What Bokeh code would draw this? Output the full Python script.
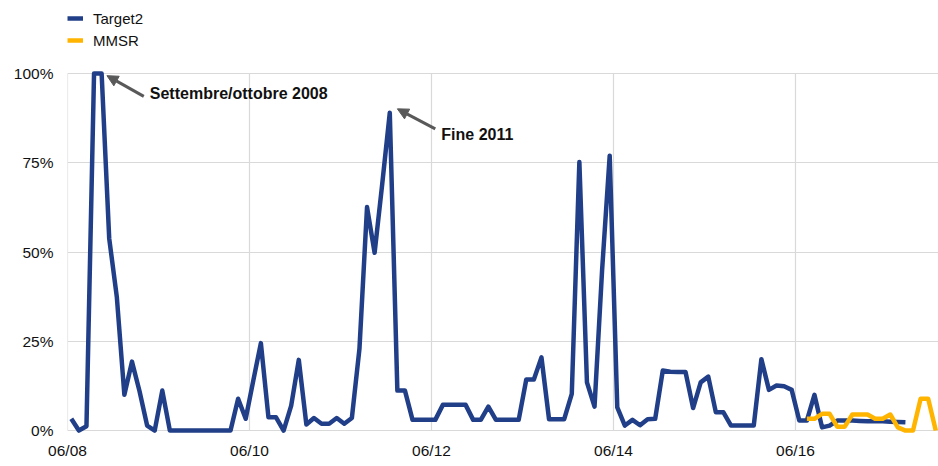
from bokeh.plotting import figure
from bokeh.models import (Range1d, FixedTicker, Legend, LegendItem, Arrow,
                          NormalHead, Label, ColumnDataSource)
from bokeh.embed import file_html
from bokeh.resources import INLINE

# ---- data (monthly, starting June 2008 = month 0) ----
target2 = [3.3, 0, 1.2, 100, 100, 53.8, 37.5, 10, 19.3, 11,
           1.4, 0, 11.2, 0, 0, 0, 0, 0, 0, 0,
           0, 0, 8.9, 3.3, 14, 24.5, 3.7, 3.7, 0, 7,
           19.8, 1.7, 3.5, 1.9, 1.9, 3.5, 1.9, 3.5, 22.9, 62.6,
           49.8, 69, 89, 11.2, 11.2, 3, 3, 3, 3, 7.2,
           7.2, 7.2, 7.2, 3, 3, 6.7, 3, 3, 3, 3,
           14.3, 14.3, 20.5, 3.2, 3.2, 3.2, 10.3, 75.2, 13.5, 6.7,
           45, 77, 6.5, 1.4, 3, 1.5, 3.2, 3.3, 16.8, 16.5,
           16.4, 16.4, 6.3, 13.5, 15.1, 5.1, 5.1, 1.4, 1.4, 1.4,
           1.4, 20, 11.4, 12.6, 12.4, 11.4, 2.8, 2.8, 10, 0.9,
           1.4, 2.8, 2.8, 2.8, 2.7, 2.6, 2.6, 2.6, 2.5, 2.4,
           2.3]
target2_start = 0
mmsr = [3.3, 3.3, 4.7, 4.7, 1.1, 1.1, 4.5, 4.5, 4.5, 3.3,
        3.3, 4.5, 0.9, 0, 0, 8.9, 8.9, 0]
mmsr_start = 97

x_ticks = [0, 24, 48, 72, 96]
x_tick_labels = ["06/08", "06/10", "06/12", "06/14", "06/16"]
y_ticks = [0, 25, 50, 75, 100]
y_tick_labels = ["0%", "25%", "50%", "75%", "100%"]

# annotations: (text, text x, text y, arrow head x, y, arrow tail x, y)
notes = [
    ("Settembre/ottobre 2008", 10.85, 94.4, 5.2, 99.4, 10.06, 93.6),
    ("Fine 2011", 49.3, 83.0, 43.5, 90.1, 48.5, 84.5),
]

NAVY = "#213f88"
YELLOW = "#ffb400"
GREY = "#595959"
GRID = "#d9d9d9"
FONT = "Liberation Sans"

# points sit in the middle of each month
t2_src = ColumnDataSource(dict(
    x=[target2_start + i + 0.5 for i in range(len(target2))], y=target2))
mm_src = ColumnDataSource(dict(
    x=[mmsr_start + i + 0.5 for i in range(len(mmsr))], y=mmsr))

p = figure(width=938, height=466,
           min_border_left=67, min_border_right=0,
           min_border_top=0, min_border_bottom=32,
           x_range=Range1d(0, 114.86), y_range=Range1d(-1.1, 120.45),
           output_backend="svg", toolbar_location=None,
           background_fill_color="white", border_fill_color="white")
p.outline_line_color = None

# vertical grid lines only across the 0-100% band
p.xgrid.visible = False
p.segment(x0=x_ticks, y0=[y_ticks[0]] * len(x_ticks),
          x1=x_ticks, y1=[y_ticks[-1]] * len(x_ticks),
          line_color=GRID, line_width=1.2)
p.ygrid.ticker = FixedTicker(ticks=y_ticks)
p.ygrid.grid_line_color = GRID
p.ygrid.grid_line_width = 1.2

r1 = p.line("x", "y", source=t2_src, line_color=NAVY, line_width=4.5,
            line_join="round")
r2 = p.line("x", "y", source=mm_src, line_color=YELLOW, line_width=4.5,
            line_join="round")

# axes
p.xaxis.ticker = FixedTicker(ticks=x_ticks)
p.xaxis.major_label_overrides = {t: l for t, l in zip(x_ticks, x_tick_labels)}
p.yaxis.ticker = FixedTicker(ticks=y_ticks)
p.yaxis.major_label_overrides = {t: l for t, l in zip(y_ticks, y_tick_labels)}
for ax in (p.xaxis, p.yaxis):
    ax.axis_line_color = None
    ax.major_tick_line_color = None
    ax.minor_tick_line_color = None
    ax.major_tick_out = 0
    ax.major_tick_in = 0
    ax.minor_tick_out = 0
    ax.major_label_text_font = FONT
    ax.major_label_text_font_size = "15.5px"
    ax.major_label_text_color = "#111111"
p.yaxis.major_label_standoff = 14
p.xaxis.major_label_standoff = 7

# annotations
for text, lx, ly, hx, hy, tx, ty in notes:
    p.add_layout(Arrow(end=NormalHead(size=11, fill_color=GREY, line_color=GREY),
                       x_start=tx, y_start=ty, x_end=hx, y_end=hy,
                       line_color=GREY, line_width=3))
    p.add_layout(Label(x=lx, y=ly, text=text,
                       text_font=FONT, text_font_style="bold",
                       text_font_size="16px", text_color="#111111",
                       text_baseline="middle", text_align="left"))

legend = Legend(items=[LegendItem(label="Target2", renderers=[r1]),
                       LegendItem(label="MMSR", renderers=[r2])],
                location=(0, 384), orientation="vertical",
                padding=0, margin=0, spacing=2,
                glyph_width=16, glyph_height=20, label_standoff=10,
                label_text_font=FONT, label_text_font_size="15px",
                label_text_color="#111111",
                border_line_color=None, background_fill_alpha=0)
p.add_layout(legend)

open("out.html", "w").write(file_html(p, INLINE))
